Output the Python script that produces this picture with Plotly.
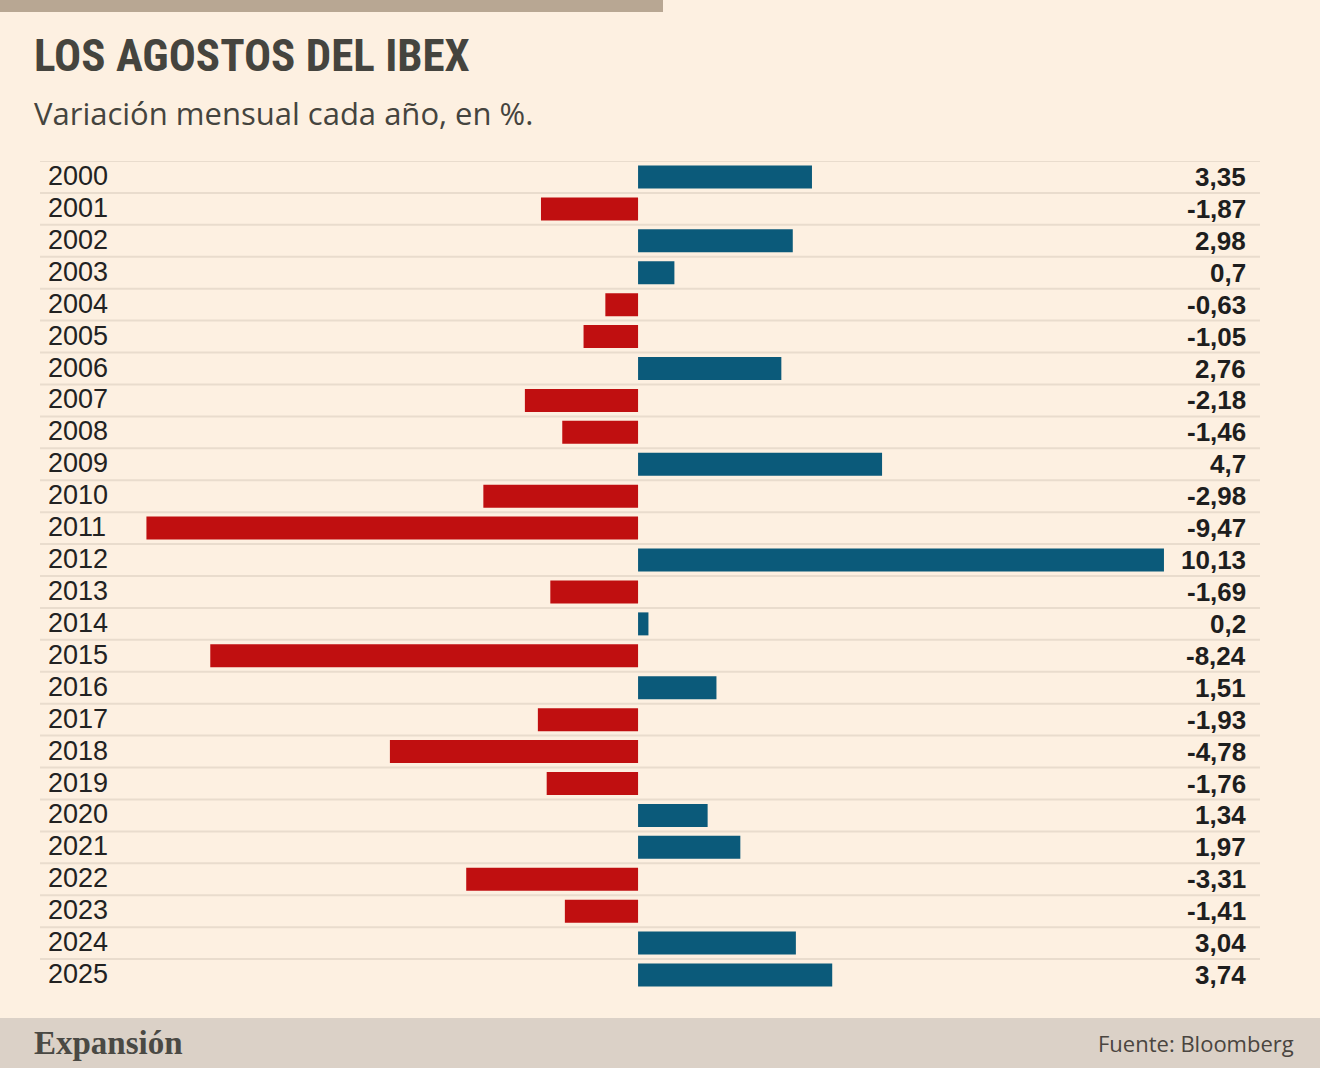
import plotly.graph_objects as go

# data
years = [str(y) for y in range(2000, 2026)]
values = [3.35, -1.87, 2.98, 0.7, -0.63, -1.05, 2.76, -2.18, -1.46, 4.7,
          -2.98, -9.47, 10.13, -1.69, 0.2, -8.24, 1.51, -1.93, -4.78, -1.76,
          1.34, 1.97, -3.31, -1.41, 3.04, 3.74]

BLUE = "#0b5a7a"
RED = "#c00f10"
BG = "#fdf0e1"

rows = list(range(len(years)))
colors = [BLUE if v >= 0 else RED for v in values]

fig = go.Figure(go.Bar(
    x=values,
    y=rows,
    orientation="h",
    width=0.72,
    marker=dict(color=colors, line=dict(width=0)),
    hoverinfo="skip",
))

# separator line on top of every row
for i in rows:
    fig.add_shape(type="line", xref="paper", yref="y", x0=0, x1=1,
                  y0=i - 0.5, y1=i - 0.5,
                  line=dict(color="#e9dccd", width=2), layer="below")

# year labels and value labels
for i, (yr, v) in enumerate(zip(years, values)):
    fig.add_annotation(xref="paper", yref="y", x=0, y=i, text=yr,
                       xanchor="left", xshift=6, yshift=1, showarrow=False,
                       font=dict(family="Liberation Sans", size=27, color="#222222"))
    fig.add_annotation(xref="paper", yref="y", x=1, y=i,
                       text="<b>" + str(v).replace(".", ",") + "</b>",
                       xanchor="right", xshift=-12, showarrow=False,
                       font=dict(family="Liberation Sans", size=26, color="#1e1e1e"))

# top strip and footer
fig.add_shape(type="rect", xref="paper", yref="paper", x0=-40/1220, x1=623/1220,
              y0=1 + 149/830, y1=1 + 161/830, fillcolor="#b8a793", line_width=0)
fig.add_shape(type="rect", xref="paper", yref="paper", x0=-40/1220, x1=1280/1220,
              y0=-77/830, y1=-27/830, fillcolor="#dbd1c7", line_width=0)

fig.add_annotation(xref="paper", yref="paper", x=-8/1220, y=1 + 105/830,
                   text="<b>LOS AGOSTOS DEL IBEX</b>",
                   xanchor="left", yanchor="middle", showarrow=False,
                   font=dict(family="Roboto Condensed, Liberation Sans Narrow, "
                                    "DejaVu Sans Condensed, sans-serif",
                             size=45, color="#45443e"))
fig.add_annotation(xref="paper", yref="paper", x=-8/1220, y=1 + 48/830,
                   text="Variación mensual cada año, en %.", xanchor="left",
                   yanchor="middle", showarrow=False,
                   font=dict(family="Open Sans", size=31, color="#45443e"))
fig.add_annotation(xref="paper", yref="paper", x=-8/1220, y=-52/830,
                   text="<b>Expansión</b>", xanchor="left", yanchor="middle",
                   showarrow=False,
                   font=dict(family="Liberation Serif", size=33, color="#4a4944"))
fig.add_annotation(xref="paper", yref="paper", x=1256/1220, y=-52/830,
                   text="Fuente: Bloomberg", xanchor="right", yanchor="middle",
                   showarrow=False,
                   font=dict(family="Open Sans", size=22, color="#4a4540"))

fig.update_layout(
    width=1320, height=1068,
    margin=dict(l=40, r=60, t=161, b=77),
    paper_bgcolor=BG, plot_bgcolor=BG,
    showlegend=False,
    xaxis=dict(range=[-11.52, 11.98], visible=False, fixedrange=True),
    yaxis=dict(range=[len(years) - 0.5, -0.5], visible=False, fixedrange=True),
)

fig.write_html("out.html", config={"displayModeBar": False},
               post_script="document.body.style.margin='0';")
